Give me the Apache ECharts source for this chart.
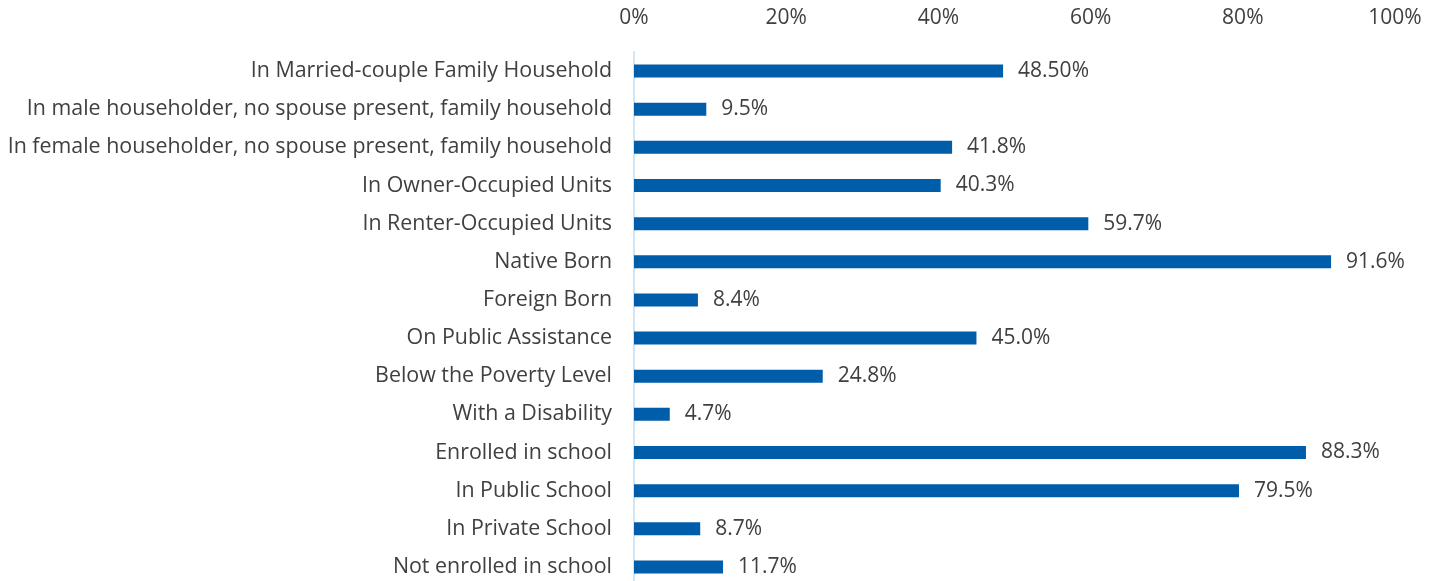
<!DOCTYPE html>
<html>
<head>
<meta charset="utf-8">
<script src="https://cdn.jsdelivr.net/npm/echarts@6/dist/echarts.min.js"></script>
<style>
  html, body { margin: 0; padding: 0; background: #fff; overflow: hidden; }
  #chart { width: 1439px; height: 600px; }
</style>
</head>
<body>
<div id="chart"></div>
<script>
// categories, top to bottom
var categories = [
  'In Married-couple Family Household',
  'In male householder, no spouse present, family household',
  'In female householder, no spouse present, family household',
  'In Owner-Occupied Units',
  'In Renter-Occupied Units',
  'Native Born',
  'Foreign Born',
  'On Public Assistance',
  'Below the Poverty Level',
  'With a Disability',
  'Enrolled in school',
  'In Public School',
  'In Private School',
  'Not enrolled in school'
];
var values = [48.5, 9.5, 41.8, 40.3, 59.7, 91.6, 8.4, 45.0, 24.8, 4.7, 88.3, 79.5, 8.7, 11.7];
// labels as printed on the chart
var valueLabels = ['48.50%', '9.5%', '41.8%', '40.3%', '59.7%', '91.6%', '8.4%', '45.0%', '24.8%', '4.7%', '88.3%', '79.5%', '8.7%', '11.7%'];

var fontName = '"Open Sans", "Noto Sans", sans-serif';
var textColor = '#404040';

var myChart = echarts.init(document.getElementById('chart'));
myChart.setOption({
  animation: false,
  // chart box is a bit taller than the window, the plot runs off the bottom edge like the original
  grid: { left: 634, right: 44, top: 52, height: 534, containLabel: false },
  xAxis: {
    type: 'value',
    position: 'top',
    min: 0,
    max: 100,
    interval: 20,
    axisLine: { show: false },
    axisTick: { show: false },
    splitLine: { show: false },
    axisLabel: {
      formatter: '{value}%',
      color: textColor,
      fontSize: 21,
      fontFamily: fontName,
      margin: 23
    }
  },
  yAxis: {
    type: 'category',
    inverse: true,
    data: categories,
    axisLine: { show: true, lineStyle: { color: '#d2e5f4', width: 2 } },
    axisTick: { show: false },
    axisLabel: {
      color: textColor,
      fontSize: 21.4,
      fontFamily: fontName,
      margin: 22
    }
  },
  series: [{
    type: 'bar',
    data: values,
    barWidth: 13,
    itemStyle: { color: '#005daa' },
    label: {
      show: true,
      position: 'right',
      distance: 15,
      color: textColor,
      fontSize: 21,
      fontFamily: fontName,
      formatter: function (p) { return valueLabels[p.dataIndex]; }
    }
  }]
});
</script>
</body>
</html>
